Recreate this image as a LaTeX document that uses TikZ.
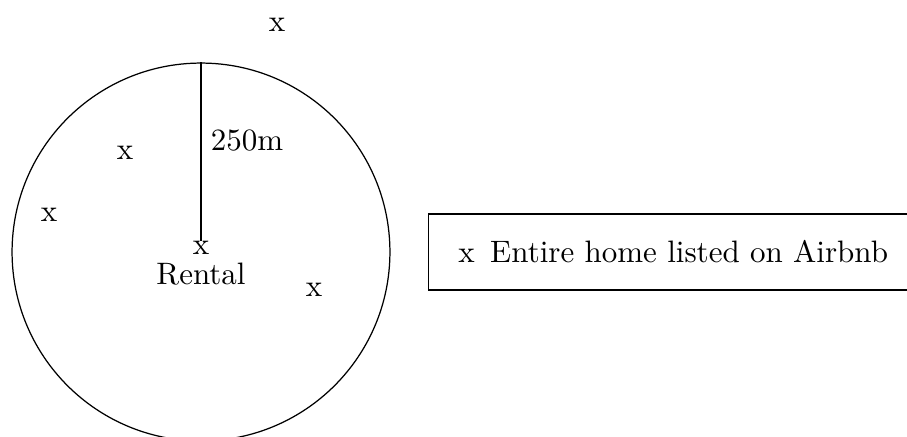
\documentclass[tikz,border=0pt]{standalone}
\usepackage{tikz}
\usetikzlibrary{positioning,calc}

\begin{document}
\begin{tikzpicture}[
  x=0.3226pt, y=-0.3226pt,
  home/.style={inner sep=0pt},
  zone/.style={draw,circle,minimum size=121.9pt,inner sep=0pt},
  legend/.style={draw,anchor=west,minimum height=24.5pt,inner xsep=9.6pt,text width=140pt,align=left},
]
  \useasboundingbox (0,0) rectangle (907,437);
  \node[zone] (area) at (201,252) {};
  \node[home] (rental) at (201,248) {x};
  \node[below=2.2pt of rental,inner sep=0pt] (rlabel) {Rental};
  \draw (area.north) -- (rental);
  \node[right=3pt of $(area.north)!0.42!(rental)$,inner sep=0pt] (radius) {250m};

  \node[home] (h1) at (277,25) {x};
  \node[home] (h2) at (125,153) {x};
  \node[home] (h3) at (49,215) {x};
  \node[home] (h4) at (314,290) {x};

  \node[legend] (key) at (428,252) {x\enspace Entire home listed on Airbnb};
\end{tikzpicture}
\end{document}
